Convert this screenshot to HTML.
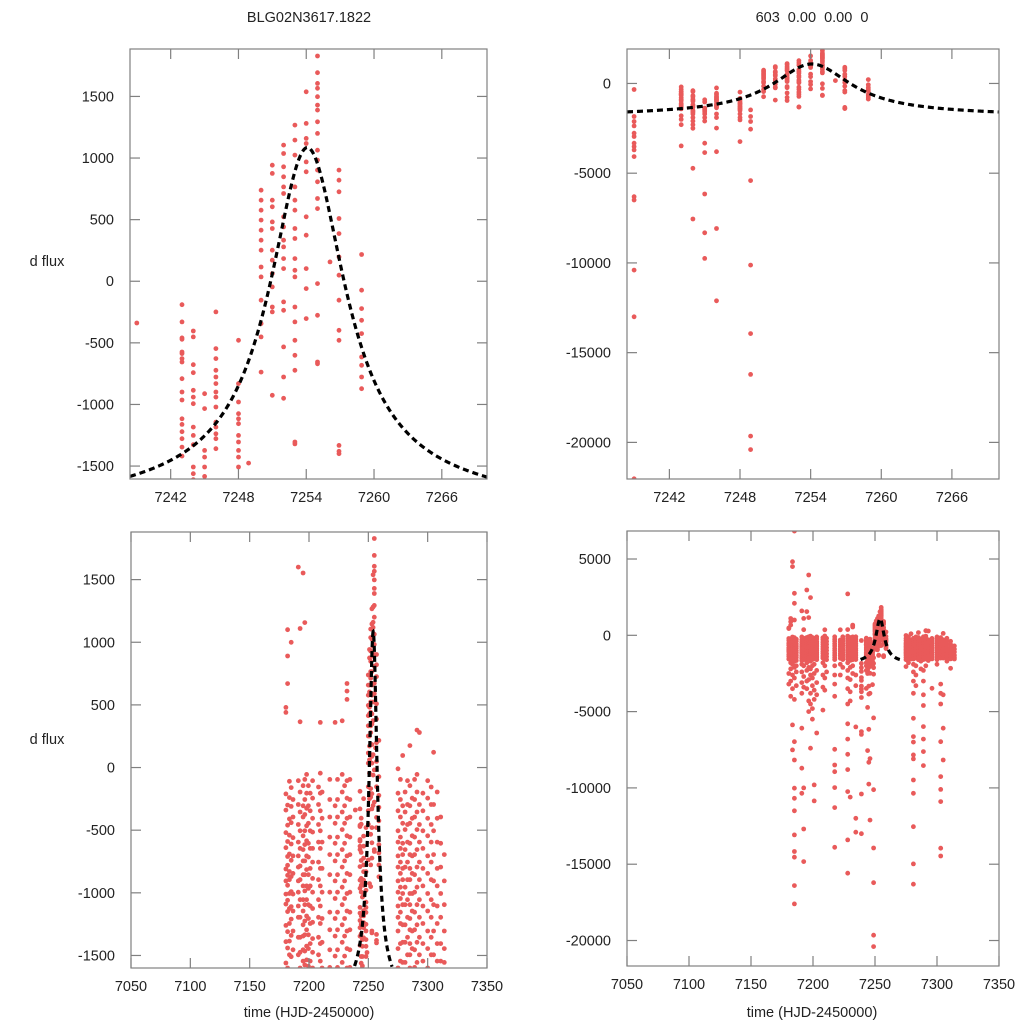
<!DOCTYPE html>
<html><head><meta charset="utf-8"><style>
html,body{margin:0;padding:0;background:#fff;overflow:hidden;width:1024px;height:1024px;}
svg{display:block;}
svg text{font-family:"Liberation Sans",sans-serif;fill:#222;}
</style></head><body>
<svg id="chart" xmlns="http://www.w3.org/2000/svg" width="1024" height="1024" viewBox="0 0 1024 1024">
<rect width="1024" height="1024" fill="#fff"/>
<text x="309" y="22" font-size="14.5" text-anchor="middle">BLG02N3617.1822</text>
<text x="812" y="22" font-size="14.5" text-anchor="middle" xml:space="preserve">603  0.00  0.00  0</text>
<text x="47" y="266" font-size="14.5" text-anchor="middle">d flux</text>
<text x="47" y="744" font-size="14.5" text-anchor="middle">d flux</text>
<text x="309" y="1017" font-size="14.5" text-anchor="middle">time (HJD-2450000)</text>
<text x="812" y="1017" font-size="14.5" text-anchor="middle">time (HJD-2450000)</text>
<g id="panels"></g>
</svg>
<script>
// observation nights (HJD-2450000) and flux values per night
const nightTimes = [7180.5,7182,7183.5,7185,7186.5,7191,7192.5,7195,7196.5,7198,7199.5,7201,7203,7208,7209.5,7211,7217.5,7222,7224,7228,7230,7232,7234.5,
 7239.0,7243.0,7244.0,7245.0,7246.0,7248.0,7248.9,7250.0,7251.0,7252.0,7253.0,7254.0,7255.0,7256.1,7256.9,7258.9,
 7275,7277,7279,7281,7283,7285,7287,7289,7291,7293,7296,7300,7303,7305,7308,7311,7314];
const nightFlux = [
 [-210,-340,-520,-640,-810,-905,-1010,-1090,-1260,-1390,-1560,480,440,-2500,-3200],
 [-300,-460,-590,-710,-780,-860,-940,-1060,-1150,-1310,-1440,-1600,-1800,-2200,-3000,-4000,1100,890,670],
 [-110,-240,-410,-540,-690,-830,-895,-1005,-1125,-1245,-1385,-1495,-1900,-2600,-3500,-5870,-7510,4826,4500],
 [-160,-310,-440,-610,-740,-870,-990,-1110,-1210,-1340,-1510,-1700,-2100,-2800,-4200,-6970,-8170,-10020,-10680,-11500,-13080,-14170,-14540,-16400,-17600,6830,2750,2100,1000],
 [-255,-395,-560,-705,-845,-1010,-1145,-1305,-1455,-1650,-2000,-2400,-3300],
 [-105,-295,-455,-595,-705,-795,-905,-995,-1105,-1195,-1355,-1495,-1650,-1900,-2400,-3100,-3800,-6090,-8710,-10350,1600],
 [-195,-355,-505,-645,-785,-895,-1055,-1195,-1355,-1475,-1600,-2000,-2700,-3400,-10000,-12690,-14830,1110,365],
 [-145,-305,-395,-545,-655,-745,-855,-945,-1055,-1145,-1255,-1345,-1455,-1545,-1800,-2300,-3000,-3500,2970,1553],
 [-95,-255,-375,-505,-615,-745,-855,-985,-1095,-1225,-1335,-1465,-1575,-2100,-2900,-4300,-5000,3950,1157],
 [-55,-205,-325,-465,-585,-705,-815,-945,-1055,-1185,-1295,-1425,-1535,-1700,-2200,-2600,-3800,-4500,-7400,2470],
 [-145,-305,-445,-605,-715,-855,-965,-1095,-1205,-1335,-1445,-1585,-2000,-2800,-3300,-4800,-5500],
 [-205,-345,-505,-645,-805,-945,-1105,-1245,-1405,-1545,-1900,-2500,-3600,-4200,-9800,-10850],
 [-105,-245,-405,-515,-645,-755,-885,-995,-1125,-1235,-1365,-1475,-1600,-2300,-3100,-3900,-6400],
 [-155,-295,-455,-595,-755,-895,-1055,-1195,-1355,-1495,-1800,-2600,-3400,-4900],
 [-45,-205,-345,-505,-645,-805,-945,-1105,-1245,-1405,-1545,-2000,-2800,-3600,360],
 [-195,-405,-595,-805,-995,-1205,-1395,-1600,-2400],
 [-95,-255,-395,-555,-695,-855,-995,-1155,-1295,-1455,-1595,-2000,-2600,-3200,-4000,-7470,-8500,-8940,-9980,-11290,-13890],
 [-305,-445,-605,-745,-905,-1045,-1205,-1345,-1505,360,-1900,-2600],
 [-95,-255,-395,-555,-695,-855,-995,-1155,-1295,-1455,-1595,-2100],
 [-55,-195,-355,-495,-655,-795,-955,-1095,-1255,-1395,-1555,-1800,-2300,-2800,-3500,-4500,-5800,-6800,-7800,-8800,-10240,-13410,-15590,2710,373],
 [-145,-305,-445,-605,-745,-905,-1045,-1205,-1345,-1505,-1645,-2100,-2900,-3700,-4300,-10600],
 [-105,-245,-405,-545,-705,-845,-1005,-1145,-1305,-1445,-1600,-2000,-2500,671,610,544],
 [-95,-255,-395,-555,-695,-855,-995,-1155,-1295,-1455,-1595,-2600,-3300,-6000,-11990,-12900],
 [-339,-1842,-2121,-2363,-2772,-2958,-3330,-3516,-3702,-4074,-6308,-6494,-10400,-13000,-22030],
 [-190,-330,-460,-471,-574,-587,-628,-655,-791,-899,-964,-1116,-1162,-1221,-1278,-1346,-1419,-1800,-2000,-2300,-3480],
 [-404,-452,-677,-742,-885,-940,-994,-1184,-1251,-1327,-1508,-1562,-1611,-1700,-1900,-2100,-2300,-2500,-4726,-7554],
 [-913,-1034,-1373,-1427,-1508,-1584,-1700,-1900,-2100,-3330,-3850,-6160,-8320,-9750],
 [-249,-547,-628,-723,-777,-831,-899,-940,-1021,-1143,-1184,-1238,-1278,-1359,-1700,-1900,-2490,-3800,-8080,-12110],
 [-479,-831,-980,-1075,-1116,-1156,-1251,-1305,-1373,-1427,-1508,-1700,-1900,-2030,-3240],
 [-1476,-1840,-2120,-2550,-5415,-10120,-13940,-16210,-19650,-20400],
 [739,658,577,496,414,333,252,116,35,-154,-344,-452,-737],
 [942,875,658,604,482,428,252,171,62,-46,-209,-249,-926],
 [1105,1037,929,848,766,712,523,441,333,279,184,103,-168,-236,-533,-777,-950],
 [1267,1146,1024,766,658,577,428,347,184,89,35,-209,-330,-479,-601,-723,-1305,-1320],
 [1538,1281,1159,1118,969,888,523,374,103,-60,-303],
 [1828,1693,1606,1566,1498,1430,1389,1294,1200,1064,983,902,807,672,590,-19,-276,-655,-670],
 [157],
 [902,820,726,509,387,198,49,-154,-398,-479,-1332,-1400,-1380],
 [217,-73,-222,-317,-425,-615,-682,-777,-872],
 [-205,-345,-505,-595,-705,-795,-905,-995,-1105,-1195,-1305,-1445,-1600,-2050,-10],
 [-95,-255,-395,-555,-645,-755,-845,-955,-1045,-1155,-1245,-1405,-1545,-1800],
 [-305,-445,-605,-695,-805,-895,-1005,-1095,-1255,-1395,-1555,96],
 [-195,-355,-495,-655,-795,-955,-1095,-1255,-1395,-1555,-1900,-2400,-3000,-3800,-5440,-6640,-7000,-7840,-8100,-9480,-10350,-12540,-14980,-16310],
 [-105,-295,-455,-595,-755,-895,-1055,-1195,-1355,-1495,-2000,-2600,-3300],
 [-145,-305,-445,-605,-695,-805,-895,-1005,-1095,-1205,-1295,-1405,-1495,-1600,175],
 [-245,-405,-545,-705,-845,-1005,-1145,-1305,-1445,-1700,-2200],
 [-95,-255,-395,-555,-695,-855,-995,-1155,-1295,-1455,-1595,-2300,-3000,-3900,-4600,-5980,-6800,-7620,-8540],
 [-55,-195,-355,-495,-655,-795,-955,-1095,-1255,-1395,-1555,-2000,299],
 [-295,-455,-595,-755,-895,-1055,-1195,-1355,-1495,-1650,280],
 [-205,-345,-505,-645,-805,-945,-1105,-1245,-1405,-1545,-3470],
 [-105,-245,-405,-545,-705,-845,-1005,-1145,-1305,-1445,-1600,-1900],
 [-155,-295,-455,-595,-755,-895,-1055,-1195,-1355,-1495,-3200,-3800,-4500,-6970,-9260,-10100,-10900,-13950,-14460],
 [-295,-505,-695,-905,-1095,-1305,-1495,122,-3900,-6090,-8170],
 [-195,-405,-595,-805,-945,-1105,-1245,-1405,-1545,-1700],
 [-395,-605,-795,-1005,-1195,-1405,-1545,-2160],
 [-695,-905,-1095,-1305,-1445,-1555]
];
// model (microlensing fit) parameters
const modelPeakTime = 7254.1, modelPeakFlux = 1086, modelAmp = 2732, modelWidth = 4.07, modelSlope = 7;
const modelRange = [7238.4, 7270];
// tick labels
const zoomXTicks = [7242,7248,7254,7260,7266];
const fullXTicks = [7050,7100,7150,7200,7250,7300,7350];
const smallYTicks = [-1500,-1000,-500,0,500,1000,1500];
const bigYTicksTop = [-20000,-15000,-10000,-5000,0];
const bigYTicksBottom = [-20000,-15000,-10000,-5000,0,5000];

const panels = [
 {name:'panel-top-left', x0:130,x1:487,y0:49,y1:479, xd:[7238.4,7270], yd:[-1605,1885], xt:zoomXTicks, yt:smallYTicks},
 {name:'panel-top-right', x0:627,x1:999,y0:49,y1:479, xd:[7238.4,7270], yd:[-22040,1920], xt:zoomXTicks, yt:bigYTicksTop},
 {name:'panel-bottom-left', x0:131,x1:487,y0:532,y1:968, xd:[7050,7350], yd:[-1600,1880], xt:fullXTicks, yt:smallYTicks},
 {name:'panel-bottom-right', x0:627,x1:999,y0:531,y1:966, xd:[7050,7350], yd:[-21670,6835], xt:fullXTicks, yt:bigYTicksBottom}
];
const NS='http://www.w3.org/2000/svg';
function mk(tag, attrs, parent){const e=document.createElementNS(NS,tag);for(const k in attrs)e.setAttribute(k,attrs[k]);parent.appendChild(e);return e;}
function model(t){const d=t-modelPeakTime;return modelPeakFlux-modelAmp*(1-1/(1+(d/modelWidth)*(d/modelWidth)))-modelSlope*Math.abs(d);}
const root=document.getElementById('panels');
panels.forEach((p,pi)=>{
 const sx=t=>p.x0+(t-p.xd[0])/(p.xd[1]-p.xd[0])*(p.x1-p.x0);
 const sy=v=>p.y1-(v-p.yd[0])/(p.yd[1]-p.yd[0])*(p.y1-p.y0);
 const g=mk('g',{},root);
 
 
 const cp=mk('clipPath',{id:'clip'+pi},g);
 mk('rect',{x:p.x0,y:p.y0,width:p.x1-p.x0,height:p.y1-p.y0},cp);
 const pts=mk('g',{'clip-path':'url(#clip'+pi+')',fill:'#e95a5a'},g);
 
 
 const padT=3/((p.x1-p.x0)/(p.xd[1]-p.xd[0])), padF=3/((p.y1-p.y0)/(p.yd[1]-p.yd[0]));
 nightTimes.forEach((t,i)=>{
  if(t<p.xd[0]-padT||t>p.xd[1]+padT) return;
  nightFlux[i].forEach(v=>{
   if(v<p.yd[0]-padF||v>p.yd[1]+padF) return;
   const c=mk('circle',{cx:sx(t).toFixed(1),cy:sy(v).toFixed(1),r:2.4},pts);
   
   
  });
 });
 let d='';
 for(let k=0;k<=400;k++){
  const t=modelRange[0]+(modelRange[1]-modelRange[0])*k/400;
  const f=Math.max(p.yd[0]-200,Math.min(p.yd[1],model(t)));
  d+=(k?'L':'M')+sx(t).toFixed(2)+','+sy(f).toFixed(2);
 }
 const ml=mk('path',{d:d,fill:'none',stroke:'#000','stroke-width':3.2,'stroke-dasharray':'6,4','clip-path':'url(#clip'+pi+')'},g);
 
 
 const fr=mk('rect',{x:p.x0,y:p.y0,width:p.x1-p.x0,height:p.y1-p.y0,fill:'none',stroke:'#808080','stroke-width':1.2},g);
 
 
 p.xt.forEach(v=>{
  const x=sx(v);
  mk('line',{x1:x,x2:x,y1:p.y1,y2:p.y1-10,stroke:'#808080','stroke-width':1.2},g);
  mk('line',{x1:x,x2:x,y1:p.y0,y2:p.y0+10,stroke:'#808080','stroke-width':1.2},g);
  const tx=mk('text',{x:x,y:p.y1+23,'font-size':14.5,'text-anchor':'middle'},g);
  tx.textContent=v;
  
  
 });
 p.yt.forEach(v=>{
  const y=sy(v);
  mk('line',{x1:p.x0,x2:p.x0+10,y1:y,y2:y,stroke:'#808080','stroke-width':1.2},g);
  mk('line',{x1:p.x1,x2:p.x1-10,y1:y,y2:y,stroke:'#808080','stroke-width':1.2},g);
  const ty=mk('text',{x:p.x0-16,y:y+5,'font-size':14.5,'text-anchor':'end'},g);
  ty.textContent=v;
  
  
 });
});
</script>
</body></html>
